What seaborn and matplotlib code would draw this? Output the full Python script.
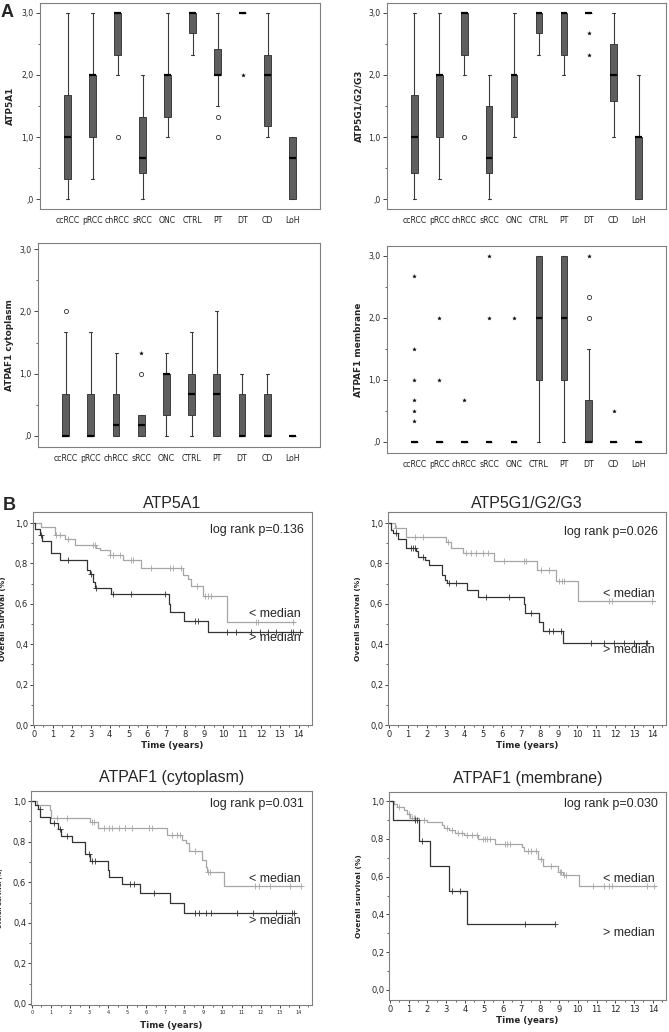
import numpy as np
import matplotlib
matplotlib.use("Agg")
import seaborn as sns
from matplotlib import pyplot as plt
from matplotlib.ticker import MultipleLocator, FuncFormatter

# ---- A: boxplots ----
cats = ["ccRCC", "pRCC", "chRCC", "sRCC", "ONC", "CTRL", "PT", "DT", "CD", "LoH"]

a1_lo = [0.0, 0.33, 2.0, 0.0, 1.0, 2.33, 1.5, 3.0, 1.0, 0.0]
a1_q1 = [0.33, 1.0, 2.33, 0.42, 1.33, 2.67, 2.0, 3.0, 1.17, 0.0]
a1_med = [1.0, 2.0, 3.0, 0.67, 2.0, 3.0, 2.0, 3.0, 2.0, 0.67]
a1_q3 = [1.67, 2.0, 3.0, 1.33, 2.0, 3.0, 2.42, 3.0, 2.33, 1.0]
a1_hi = [3.0, 3.0, 3.0, 2.0, 3.0, 3.0, 3.0, 3.0, 3.0, 1.0]
a1_circ = [("chRCC", 1.0), ("PT", 1.33), ("PT", 1.0)]
a1_star = [("DT", 2.0)]

g_lo = [0.0, 0.33, 2.0, 0.0, 1.0, 2.33, 2.0, 3.0, 1.0, 0.0]
g_q1 = [0.42, 1.0, 2.33, 0.42, 1.33, 2.67, 2.33, 3.0, 1.58, 0.0]
g_med = [1.0, 2.0, 3.0, 0.67, 2.0, 3.0, 3.0, 3.0, 2.0, 1.0]
g_q3 = [1.67, 2.0, 3.0, 1.5, 2.0, 3.0, 3.0, 3.0, 2.5, 1.0]
g_hi = [3.0, 3.0, 3.0, 2.0, 3.0, 3.0, 3.0, 3.0, 3.0, 2.0]
g_circ = [("chRCC", 1.0)]
g_star = [("DT", 2.67), ("DT", 2.33)]

c_lo = [0, 0, 0, 0, 0, 0, 0, 0, 0, 0]
c_q1 = [0, 0, 0, 0, 0.33, 0.33, 0, 0, 0, 0]
c_med = [0, 0, 0.17, 0.17, 1.0, 0.67, 0.67, 0, 0, 0]
c_q3 = [0.67, 0.67, 0.67, 0.33, 1.0, 1.0, 1.0, 0.67, 0.67, 0]
c_hi = [1.67, 1.67, 1.33, 0.33, 1.33, 1.67, 2.0, 1.0, 1.0, 0]
c_circ = [("ccRCC", 2.0), ("sRCC", 1.0)]
c_star = [("sRCC", 1.33)]

m_lo = [0, 0, 0, 0, 0, 0, 0, 0, 0, 0]
m_q1 = [0, 0, 0, 0, 0, 1.0, 1.0, 0, 0, 0]
m_med = [0, 0, 0, 0, 0, 2.0, 2.0, 0, 0, 0]
m_q3 = [0, 0, 0, 0, 0, 3.0, 3.0, 0.67, 0, 0]
m_hi = [0, 0, 0, 0, 0, 3.0, 3.0, 1.5, 0, 0]
m_circ = [("DT", 2.0), ("DT", 2.33)]
m_star = [("ccRCC", 2.67), ("ccRCC", 1.5), ("ccRCC", 1.0), ("ccRCC", 0.67),
          ("ccRCC", 0.5), ("ccRCC", 0.33), ("pRCC", 2.0), ("pRCC", 1.0),
          ("chRCC", 0.67), ("sRCC", 3.0), ("sRCC", 2.0), ("ONC", 2.0),
          ("DT", 3.0), ("CD", 0.5)]

# ---- B: Kaplan-Meier steps (drop times, survival after drop, end, censored) ----
km1_lo_t = [0.39, 1.09, 1.62, 2.15, 3.3, 3.47, 4.0, 4.71, 5.68, 7.88, 8.15, 8.32, 8.94, 10.18]
km1_lo_s = [0.98, 0.94, 0.92, 0.89, 0.875, 0.865, 0.84, 0.815, 0.78, 0.745, 0.725, 0.69, 0.64, 0.51]
km1_lo_end = 13.8
km1_lo_c = [1.18, 1.36, 1.8, 3.12, 3.21, 4.0, 4.18, 4.53, 5.15, 5.24, 6.2, 7.18, 7.35, 7.8,
            8.6, 9.03, 9.2, 9.38, 11.76, 11.85, 13.7]
km1_hi_t = [0.05, 0.3, 0.44, 0.92, 1.36, 2.8, 2.95, 3.12, 3.25, 4.09, 7.14, 7.21, 7.92, 9.2]
km1_hi_s = [0.97, 0.94, 0.91, 0.85, 0.815, 0.77, 0.746, 0.71, 0.68, 0.647, 0.60, 0.56, 0.516, 0.46]
km1_hi_end = 14.1
km1_hi_c = [0.39, 1.8, 3.03, 3.3, 4.18, 5.15, 6.91, 8.5, 8.68, 10.18, 10.7, 11.5, 11.94,
            12.38, 12.8, 13.6, 13.7, 14.06]

km2_lo_t = [0.3, 0.92, 3.03, 3.3, 3.92, 5.59, 7.85, 8.85, 10.05]
km2_lo_s = [0.978, 0.93, 0.904, 0.876, 0.85, 0.81, 0.768, 0.715, 0.614]
km2_lo_end = 14.1
km2_lo_c = [0.39, 1.36, 1.8, 3.12, 4.09, 4.36, 4.62, 4.97, 5.24, 6.12, 7.18, 7.27, 8.06, 8.5,
            9.03, 9.17, 9.29, 11.68, 11.85, 13.97]
km2_hi_t = [0.09, 0.21, 0.48, 0.88, 1.41, 1.53, 1.89, 2.15, 2.82, 3.0, 3.09, 4.14, 4.71,
            7.14, 7.23, 7.97, 8.18, 9.26]
km2_hi_s = [0.967, 0.95, 0.922, 0.876, 0.86, 0.834, 0.818, 0.793, 0.743, 0.718, 0.701, 0.668,
            0.632, 0.60, 0.556, 0.51, 0.466, 0.408]
km2_hi_end = 13.75
km2_hi_c = [0.35, 1.15, 1.27, 1.36, 1.8, 3.21, 3.56, 5.15, 6.38, 7.53, 8.5, 8.68, 9.12, 10.7,
            11.41, 11.94, 12.47, 13.0, 13.62, 13.7]

km3_lo_t = [0.26, 0.93, 1.0, 3.06, 3.45, 7.09, 7.88, 8.06, 8.23, 8.93, 9.16, 9.19, 10.07]
km3_lo_s = [0.98, 0.956, 0.915, 0.898, 0.866, 0.833, 0.808, 0.792, 0.756, 0.71, 0.677, 0.65, 0.58]
km3_lo_end = 14.1
km3_lo_c = [1.31, 1.84, 3.15, 3.27, 3.77, 4.03, 4.2, 4.55, 4.9, 5.25, 6.13, 6.3, 7.36, 7.62,
            7.79, 8.58, 9.23, 9.37, 11.73, 11.91, 12.52, 13.57, 14.1]
km3_hi_t = [0.14, 0.3, 0.44, 0.96, 1.35, 1.54, 2.1, 2.8, 3.03, 3.97, 4.06, 4.73, 5.66, 7.27, 7.97]
km3_hi_s = [0.98, 0.96, 0.92, 0.89, 0.862, 0.828, 0.8, 0.74, 0.707, 0.66, 0.625, 0.592, 0.546,
            0.5, 0.45]
km3_hi_end = 13.8
km3_hi_c = [0.4, 1.14, 1.45, 1.84, 2.98, 3.15, 3.33, 5.17, 5.34, 6.39, 8.58, 8.76, 9.16, 9.4,
            10.74, 11.59, 12.82, 13.66, 13.78]

km4_lo_t = [0.21, 0.39, 0.74, 0.92, 1.09, 1.57, 1.98, 2.77, 2.89, 3.12, 3.47, 3.92, 4.71, 5.59,
            7.04, 7.14, 7.88, 8.15, 8.94, 9.21, 10.09]
km4_lo_s = [0.986, 0.968, 0.954, 0.933, 0.912, 0.898, 0.889, 0.871, 0.857, 0.845, 0.831, 0.818,
            0.801, 0.775, 0.757, 0.736, 0.695, 0.655, 0.625, 0.607, 0.549]
km4_lo_end = 14.15
km4_lo_c = [0.48, 1.04, 1.18, 1.27, 1.36, 1.8, 3.03, 3.3, 3.65, 3.83, 4.09, 4.36, 4.62, 4.97,
            5.06, 5.15, 5.33, 6.12, 6.21, 6.38, 7.35, 7.53, 7.8, 8.06, 8.59, 9.03, 9.12, 9.29,
            9.38, 10.79, 11.41, 11.68, 11.85, 13.7, 14.06]
km4_hi_t = [0.16, 1.53, 2.15, 3.12, 4.13]
km4_hi_s = [0.898, 0.789, 0.655, 0.525, 0.349]
km4_hi_end = 8.77
km4_hi_c = [1.36, 1.45, 1.71, 3.3, 3.74, 7.18, 8.77]

LIGHT = "#a6a6a6"
DARK = "#333333"

sns.set_style("ticks")
plt.rcParams["font.family"] = ["DejaVu Sans"]

W, H = 669, 1032
fig = plt.figure(figsize=(W / 100, H / 100), dpi=100)


def rect(l, t, r, b):
    return [l / W, 1 - b / H, (r - l) / W, (b - t) / H]


def comma(v, lead):
    s = f"{v:.1f}".replace(".", ",")
    if not lead and s.startswith("0,"):
        s = s[1:]
    return s


def frame(ax):
    for sp in ax.spines.values():
        sp.set_color("#808080")
        sp.set_linewidth(0.8)


def box_panel(r, lo, q1, med, q3, hi, circ, star, ylab, ylim, labx):
    ax = fig.add_axes(rect(*r))
    stats = [dict(whislo=a, q1=b, med=c, q3=d, whishi=e)
             for a, b, c, d, e in zip(lo, q1, med, q3, hi)]
    ax.bxp(stats, positions=range(len(cats)), widths=0.27, capwidths=0.12,
           patch_artist=True, showfliers=False,
           boxprops=dict(facecolor="#5f5f5f", edgecolor="#2a2a2a", linewidth=0.6),
           medianprops=dict(color="black", linewidth=1.6),
           whiskerprops=dict(color="#3a3a3a", linewidth=0.8),
           capprops=dict(color="#3a3a3a", linewidth=0.8))
    if circ:
        sns.scatterplot(x=[cats.index(c) for c, _ in circ], y=[v for _, v in circ],
                        marker="o", s=9, color="white", edgecolor="#333333",
                        linewidth=0.6, ax=ax, zorder=4)
    if star:
        sns.scatterplot(x=[cats.index(c) for c, _ in star], y=[v for _, v in star],
                        marker="*", s=8, color="black", edgecolor="black",
                        linewidth=0.2, ax=ax, zorder=4)
    ax.set_xlim(-1.1, len(cats) - 1 + 1.1)
    ax.set_ylim(*ylim)
    ax.set_xticks(range(len(cats)))
    ax.set_xticklabels(cats)
    ax.yaxis.set_major_locator(MultipleLocator(1.0))
    ax.yaxis.set_minor_locator(MultipleLocator(0.5))
    ax.yaxis.set_major_formatter(FuncFormatter(lambda v, p: comma(v, False)))
    ax.tick_params(axis="x", length=0, pad=5, labelsize=5.6, colors="#222222")
    ax.tick_params(axis="y", which="major", length=3, width=0.6, labelsize=5.6, pad=1.5)
    ax.tick_params(axis="y", which="minor", length=1.8, width=0.5)
    ax.set_xlabel("")
    ax.set_ylabel(ylab, fontsize=6.4, fontweight="bold")
    ax.yaxis.set_label_coords(labx, 0.5)
    frame(ax)
    return ax


def step_at(t, s, x):
    i = np.searchsorted(t, x, side="right") - 1
    return s[i]


def km_curve(ax, times, surv, end, cens, color):
    t = np.array([0.0] + times + [end])
    s = np.array([1.0] + surv + [surv[-1]])
    sns.lineplot(x=t, y=s, drawstyle="steps-post", estimator=None, color=color,
                 linewidth=0.9, ax=ax)
    cy = [step_at(t, s, c) for c in cens]
    sns.scatterplot(x=cens, y=cy, marker="+", s=16, color=color, linewidth=0.6,
                    ax=ax, zorder=4)


def km_panel(r, curves, title, ptxt, ylab, ylim, py, lo_y, hi_y, small=False, tpad=3):
    ax = fig.add_axes(rect(*r))
    for c in curves:
        km_curve(ax, *c)
    ax.set_xlim(-0.05, 14.7)
    ax.set_ylim(*ylim)
    ax.xaxis.set_major_locator(MultipleLocator(1))
    ax.xaxis.set_minor_locator(MultipleLocator(0.5))
    ax.yaxis.set_major_locator(MultipleLocator(0.2))
    ax.yaxis.set_minor_locator(MultipleLocator(0.1))
    ax.yaxis.set_major_formatter(FuncFormatter(lambda v, p: comma(v, True)))
    ax.tick_params(axis="x", which="major", length=2.5, width=0.6,
                   labelsize=3.6 if small else 6.0, pad=1)
    ax.tick_params(axis="y", which="major", length=2.5, width=0.6, labelsize=6.0, pad=1)
    ax.tick_params(which="minor", length=1.5, width=0.5)
    ax.set_title(title, fontsize=11.5, family="Liberation Sans", pad=tpad)
    ax.set_xlabel("Time (years)", fontsize=6.3, fontweight="bold")
    ax.xaxis.set_label_coords(0.5, -0.075)
    ax.set_ylabel(ylab, fontsize=3.8 if small else 5.4, fontweight="bold")
    ax.yaxis.set_label_coords(-0.098, 0.5)
    ax.text(14.25, py, ptxt, ha="right", va="center", fontsize=9, family="Liberation Sans")
    ax.text(14.1, lo_y, "< median", ha="right", va="center", fontsize=9,
            family="Liberation Sans")
    ax.text(14.1, hi_y, "> median", ha="right", va="center", fontsize=9,
            family="Liberation Sans")
    frame(ax)
    return ax


box_panel((40, 3, 320, 209), a1_lo, a1_q1, a1_med, a1_q3, a1_hi, a1_circ, a1_star,
          "ATP5A1", (-0.16, 3.16), -0.09)
box_panel((387, 3, 666, 209), g_lo, g_q1, g_med, g_q3, g_hi, g_circ, g_star,
          "ATP5G1/G2/G3", (-0.16, 3.16), -0.086)
box_panel((38, 243, 320, 447), c_lo, c_q1, c_med, c_q3, c_hi, c_circ, c_star,
          "ATPAF1 cytoplasm", (-0.18, 3.1), -0.085)
box_panel((387, 246, 666, 453), m_lo, m_q1, m_med, m_q3, m_hi, m_circ, m_star,
          "ATPAF1 membrane", (-0.18, 3.16), -0.086)

km_panel((33, 512, 312, 725),
         [(km1_lo_t, km1_lo_s, km1_lo_end, km1_lo_c, LIGHT),
          (km1_hi_t, km1_hi_s, km1_hi_end, km1_hi_c, DARK)],
         "ATP5A1", "log rank p=0.136", "Overall Survival (%)", (0, 1.055),
         0.967, 0.548, 0.432)
km_panel((388, 512, 666, 725),
         [(km2_lo_t, km2_lo_s, km2_lo_end, km2_lo_c, LIGHT),
          (km2_hi_t, km2_hi_s, km2_hi_end, km2_hi_c, DARK)],
         "ATP5G1/G2/G3", "log rank p=0.026", "Overall Survival (%)", (0, 1.055),
         0.958, 0.647, 0.373)
km_panel((31, 791, 312, 1005),
         [(km3_lo_t, km3_lo_s, km3_lo_end, km3_lo_c, LIGHT),
          (km3_hi_t, km3_hi_s, km3_hi_end, km3_hi_c, DARK)],
         "ATPAF1 (cytoplasm)", "log rank p=0.031", "Overall Survival (%)", (-0.005, 1.05),
         0.985, 0.615, 0.41, small=True, tpad=6.5)
km_panel((389, 792, 666, 1000),
         [(km4_lo_t, km4_lo_s, km4_lo_end, km4_lo_c, LIGHT),
          (km4_hi_t, km4_hi_s, km4_hi_end, km4_hi_c, DARK)],
         "ATPAF1 (membrane)", "log rank p=0.030", "Overall survival (%)", (-0.053, 1.048),
         0.986, 0.59, 0.3, tpad=6.5)

fig.text(7.5 / W, 1 - 12.5 / H, "A", fontsize=13, fontweight="bold", family="Liberation Sans",
         ha="center", va="center")
fig.text(9 / W, 1 - 505 / H, "B", fontsize=13, fontweight="bold", family="Liberation Sans",
         ha="center", va="center")

fig.savefig("out.png", dpi=100)
